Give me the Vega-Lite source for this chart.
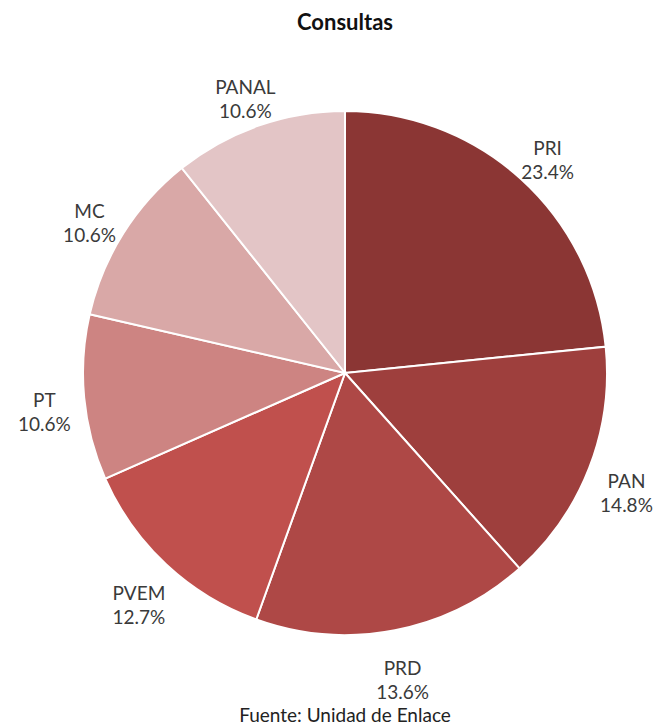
{
  "$schema": "https://vega.github.io/schema/vega-lite/v6.json",
  "background": "white",
  "padding": {"left": 17, "top": 12, "right": 0, "bottom": 0},
  "spacing": 0,
  "title": {"text": "Fuente: Unidad de Enlace", "orient": "bottom", "font": "Lato", "fontSize": 19, "fontWeight": "normal", "color": "#222222", "offset": 4, "anchor": "middle"},
  "config": {"view": {"stroke": null}},
  "vconcat": [
    {
      "width": 654,
      "height": 660,
      "title": {"text": "Consultas", "font": "Lato", "fontSize": 22, "fontWeight": "bold", "color": "#111111", "offset": 8, "anchor": "middle"},
      "data": {"values": [
        {"partido": "PRI", "valor": 23.4, "etiqueta": "PRI\n23.4%", "orden": 1},
        {"partido": "PAN", "valor": 15.0, "etiqueta": "PAN\n14.8%", "orden": 2},
        {"partido": "PRD", "valor": 17.1, "etiqueta": "PRD\n13.6%", "orden": 3},
        {"partido": "PVEM", "valor": 12.9, "etiqueta": "PVEM\n12.7%", "orden": 4},
        {"partido": "PT", "valor": 10.2, "etiqueta": "PT\n10.6%", "orden": 5},
        {"partido": "MC", "valor": 10.7, "etiqueta": "MC\n10.6%", "orden": 6},
        {"partido": "PANAL", "valor": 10.7, "etiqueta": "PANAL\n10.6%", "orden": 7}
      ]},
      "encoding": {
        "theta": {"field": "valor", "type": "quantitative", "stack": true},
        "order": {"field": "orden", "type": "quantitative"}
      },
      "layer": [
        {
          "mark": {"type": "arc", "radius": 262, "stroke": "white", "strokeWidth": 2},
          "encoding": {
            "color": {"field": "partido", "type": "nominal",
              "scale": {"domain": ["PRI", "PAN", "PRD", "PVEM", "PT", "MC", "PANAL"],
                        "range": ["#8B3634", "#9E3F3D", "#AE4846", "#C0504D", "#CD8482", "#D9A8A7", "#E3C5C6"]},
              "legend": null}
          }
        },
        {
          "mark": {"type": "text", "radius": 302, "lineBreak": "\n", "font": "Lato", "fontSize": 19, "color": "#3a3a3a", "align": "center", "baseline": "middle", "lineHeight": 24},
          "encoding": {"text": {"field": "etiqueta", "type": "nominal"}}
        }
      ]
    }
  ]
}
